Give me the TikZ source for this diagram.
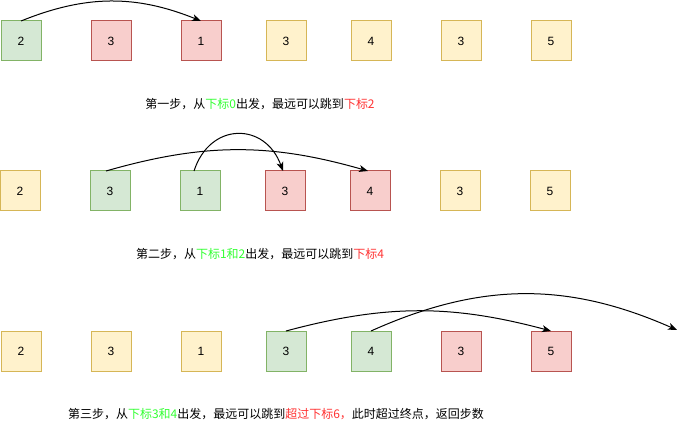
\documentclass[tikz,border=0pt]{standalone}
\usepackage{fontspec}
\setmainfont{Liberation Sans}
\newfontfamily\cjk{Noto Sans CJK SC}
\usetikzlibrary{positioning, arrows.meta}

\definecolor{gfill}{HTML}{D5E8D4}
\definecolor{gline}{HTML}{82B366}
\definecolor{rfill}{HTML}{F8CECC}
\definecolor{rline}{HTML}{B85450}
\definecolor{yfill}{HTML}{FFF2CC}
\definecolor{yline}{HTML}{D6B656}
\definecolor{tgreen}{HTML}{33FF33}
\definecolor{tred}{HTML}{FF3333}

\begin{document}
\begin{tikzpicture}[x=1pt, y=1pt, >={Stealth[length=9pt, width=7pt, inset=2.5pt]}, line width=1pt, node distance=50pt,
    cell/.style={draw, rectangle, minimum size=40pt, inner sep=0pt, outer sep=0pt, font=\fontsize{12}{14}\selectfont},
    done/.style={cell, draw=gline, fill=gfill},
    reach/.style={cell, draw=rline, fill=rfill},
    todo/.style={cell, draw=yline, fill=yfill},
    remark/.style={inner sep=0pt, font=\cjk\fontsize{12}{14}\selectfont}]
        \useasboundingbox (0,0) rectangle (681,432);

        % step 1
        \node[done] (a0) at (21,391) {2};
        \node[reach] (a1) [right=of a0] {3};
        \node[reach] (a2) [right=of a1] {1};
        \node[todo] (a3) [right=45pt of a2] {3};
        \node[todo] (a4) [right=45pt of a3] {4};
        \node[todo] (a5) [right=of a4] {3};
        \node[todo] (a6) [right=of a5] {5};
        \draw[->] (a0.north) to[bend left=22] (a2.north);
        \node[remark] (t1) at (260,328) {第一步，从\textcolor{tgreen}{下标0}出发，最远可以跳到\textcolor{tred}{下标2}};

        % step 2
        \node[todo] (b0) at (20,241) {2};
        \node[done] (b1) [right=of b0] {3};
        \node[done] (b2) [right=of b1] {1};
        \node[reach] (b3) [right=45pt of b2] {3};
        \node[reach] (b4) [right=45pt of b3] {4};
        \node[todo] (b5) [right=of b4] {3};
        \node[todo] (b6) [right=of b5] {5};
        \draw[->] ([xshift=-4pt]b1.north) to[bend left=16] ([xshift=-2pt]b4.north);
        \draw[->] ([xshift=-6pt]b2.north) to[out=72, in=110, looseness=1.5] ([xshift=-2pt]b3.north);
        \node[remark] (t2) at (260,178) {第二步，从\textcolor{tgreen}{下标1和2}出发，最远可以跳到\textcolor{tred}{下标4}};

        % step 3
        \node[todo] (c0) at (21,81) {2};
        \node[todo] (c1) [right=of c0] {3};
        \node[todo] (c2) [right=of c1] {1};
        \node[done] (c3) [right=45pt of c2] {3};
        \node[done] (c4) [right=45pt of c3] {4};
        \node[reach] (c5) [right=of c4] {3};
        \node[reach] (c6) [right=of c5] {5};
        \coordinate (beyond) at (677,102);
        \draw[->] (c3.north) to[bend left=15] (c6.north);
        \draw[->] (c4.north) to[bend left=24] (beyond);
        \node[remark] (t3) at (276,18) {第三步，从\textcolor{tgreen}{下标3和4}出发，最远可以跳到\textcolor{tred}{超过下标6，}此时超过终点，返回步数};
\end{tikzpicture}
\end{document}
